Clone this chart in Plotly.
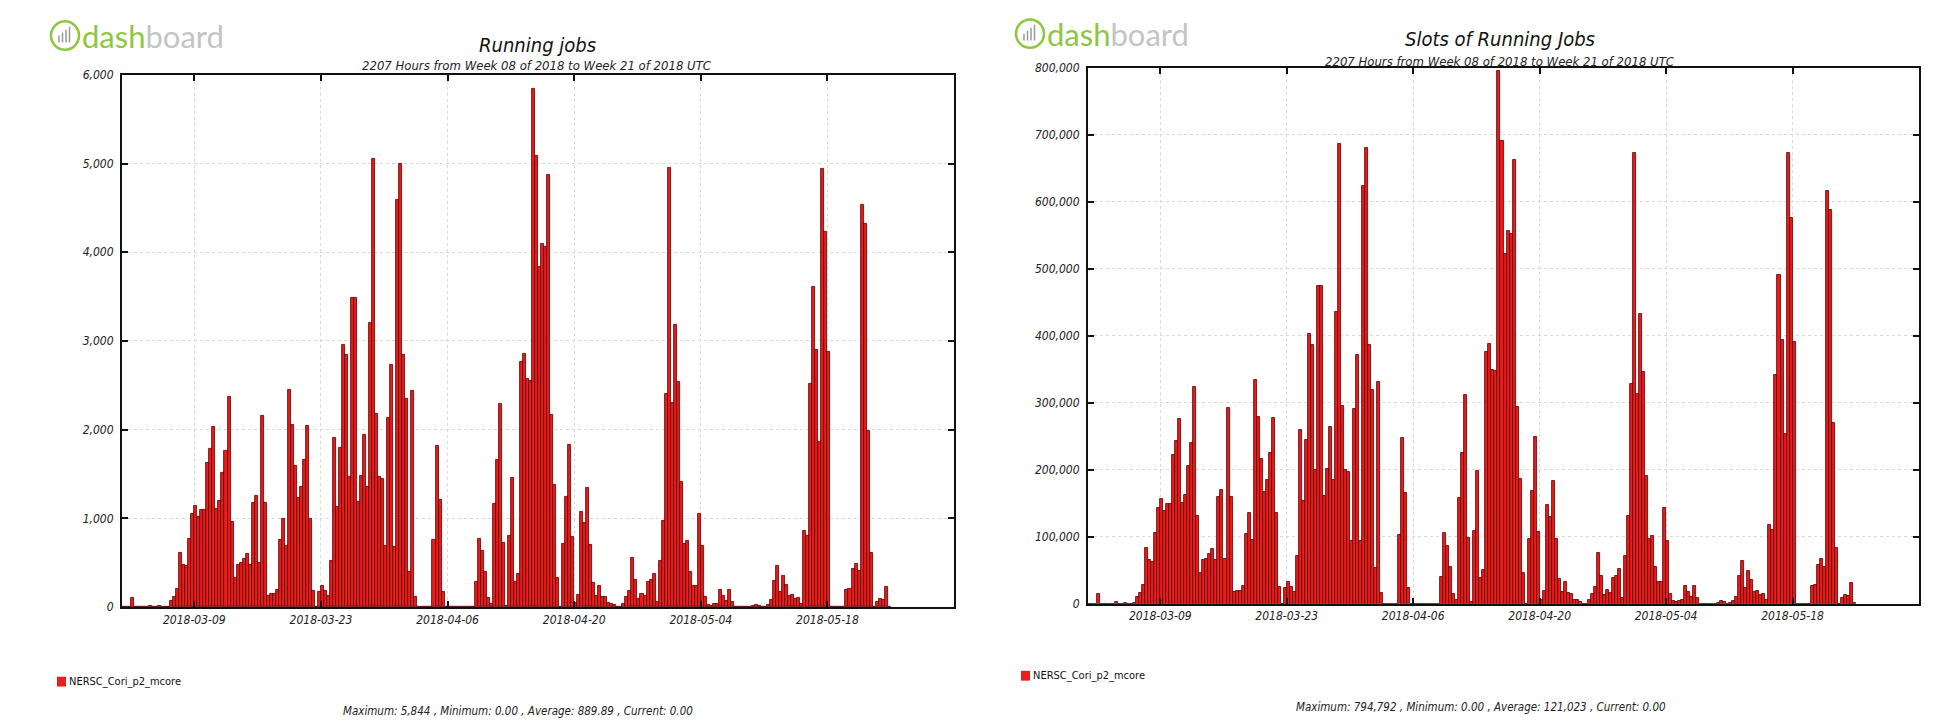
import pandas as pd
import plotly.graph_objects as go

# ---------------- data (8-hour bins starting 2018-03-01 00:00 UTC) ----------------
bin_start = "2018-03-01 00:00"
bin_hours = 8

running_jobs = [
    0, 0, 0, 105, 0, 0, 0, 0, 0, 20,
    0, 0, 10, 0, 0, 5, 70, 117, 211, 613,
    477, 461, 773, 1055, 1145, 1020, 1094, 1094, 1629, 1785,
    2031, 1109, 1199, 1512, 1762, 2375, 965, 332, 480, 496,
    547, 605, 480, 1172, 1254, 496, 2152, 1172, 125, 145,
    145, 200, 762, 1000, 695, 2453, 2055, 1590, 1227, 1355,
    1656, 2043, 1000, 188, 0, 168, 238, 188, 130, 525,
    1906, 1133, 1797, 2961, 2840, 1470, 3490, 3490, 1185, 1480,
    1940, 1360, 3205, 5050, 2175, 1470, 1445, 690, 2135, 2730,
    685, 4590, 5000, 2845, 2345, 395, 2440, 120, 0, 0,
    0, 0, 0, 758, 1816, 1211, 176, 0, 0, 0,
    0, 0, 0, 0, 0, 0, 0, 290, 775, 638,
    402, 109, 40, 1166, 1655, 2290, 720, 15, 800, 1455,
    283, 375, 2766, 2850, 2570, 2552, 5844, 5085, 3840, 4090,
    4060, 4868, 2165, 1374, 333, 0, 710, 1243, 1832, 789,
    45, 135, 1080, 951, 1350, 708, 270, 127, 236, 119,
    111, 44, 40, 24, 0, 0, 43, 111, 188, 561,
    307, 94, 148, 123, 282, 303, 377, 59, 522, 968,
    2410, 4950, 2300, 3183, 2545, 1408, 714, 748, 400, 236,
    242, 1047, 686, 111, 30, 18, 34, 40, 190, 125,
    69, 190, 60, 0, 0, 0, 0, 0, 0, 12,
    30, 18, 0, 4, 28, 78, 300, 466, 177, 358,
    256, 133, 135, 98, 107, 36, 860, 805, 2515, 3610,
    2900, 1860, 4945, 4235, 2875, 0, 0, 0, 0, 0,
    200, 202, 428, 493, 405, 4530, 4320, 1982, 616, 0,
    58, 95, 84, 232, 8,
]

running_slots = [
    0, 0, 0, 14300, 0, 0, 0, 0, 0, 2700,
    0, 0, 1400, 0, 0, 700, 9500, 15900, 28700, 83400,
    64900, 62700, 105100, 143500, 155700, 138700, 148800, 148800, 221500, 242800,
    276200, 150800, 163100, 205600, 239600, 323000, 131200, 45200, 65300, 67500,
    74400, 82300, 65300, 159400, 170500, 67500, 292700, 159400, 17000, 19700,
    19700, 27200, 103600, 136000, 94500, 333600, 279500, 216200, 166900, 184300,
    225200, 277800, 136000, 25600, 0, 22800, 32400, 25600, 17700, 71400,
    259200, 154100, 244400, 402700, 386200, 199900, 474600, 474600, 161200, 201300,
    263800, 185000, 435900, 686800, 295800, 199900, 196500, 93800, 290400, 371300,
    93200, 624200, 680000, 386900, 318900, 53700, 331800, 16300, 0, 0,
    0, 0, 0, 103100, 247000, 164700, 23900, 0, 0, 0,
    0, 0, 0, 0, 0, 0, 0, 39400, 105400, 86800,
    54700, 14800, 5400, 158600, 225100, 311400, 97900, 2000, 108800, 197900,
    38500, 51000, 376200, 387600, 349500, 347100, 794792, 691600, 522200, 556200,
    552200, 662000, 294400, 186900, 45300, 0, 96600, 169000, 249200, 107300,
    6100, 18400, 146900, 129300, 183600, 96300, 36700, 17300, 32100, 16200,
    15100, 6000, 5400, 3300, 0, 0, 5800, 15100, 25600, 76300,
    41800, 12800, 20100, 16700, 38400, 41200, 51300, 8000, 71000, 131600,
    327800, 673200, 312800, 432900, 346100, 191500, 97100, 101700, 54400, 32100,
    32900, 142400, 93300, 15100, 4100, 2400, 4600, 5400, 25800, 17000,
    9400, 25800, 8200, 0, 0, 0, 0, 0, 0, 1600,
    4100, 2400, 0, 500, 3800, 10600, 40800, 63400, 24100, 48700,
    34800, 18100, 18400, 13300, 14600, 4900, 117000, 109500, 342000, 491000,
    394400, 253000, 672500, 576000, 391000, 0, 0, 0, 0, 0,
    27200, 27500, 58200, 67000, 55100, 616100, 587500, 269600, 83800, 0,
    7900, 12900, 11400, 31600, 1100,
]

tick_dates = ["2018-03-09", "2018-03-23", "2018-04-06", "2018-04-20", "2018-05-04", "2018-05-18"]
x_range = ["2018-03-01", "2018-06-01"]
series_name = "NERSC_Cori_p2_mcore"
titles = ["Running jobs", "Slots of Running Jobs"]
subtitle = "2207 Hours from Week 08 of 2018 to Week 21 of 2018 UTC"
footers = [
    "Maximum: 5,844 , Minimum: 0.00 , Average: 889.89 , Current: 0.00",
    "Maximum: 794,792 , Minimum: 0.00 , Average: 121,023 , Current: 0.00",
]
y_ticks_jobs = [0, 1000, 2000, 3000, 4000, 5000, 6000]
y_ticks_slots = [0, 100000, 200000, 300000, 400000, 500000, 600000, 700000, 800000]

# ---------------- layout helpers ----------------
# The page body keeps its default 8px margin, so the figure is drawn 8px in from
# the window edge; all positions below are window pixels.
PAGE_W, PAGE_H, BODY_MARGIN = 1946, 728, 8
W, H = PAGE_W - 2 * BODY_MARGIN, PAGE_H - 2 * BODY_MARGIN


def px(x):
    return (x - BODY_MARGIN) / W


def py(y):
    return 1 - (y - BODY_MARGIN) / H


FONT = "DejaVu Sans Condensed, DejaVu Sans, Liberation Sans Narrow, sans-serif"
BAR_FILL = "#f01818"
BAR_EDGE = "#4a0505"

times = pd.date_range(bin_start, periods=len(running_jobs), freq=f"{bin_hours}h") + pd.Timedelta(hours=bin_hours / 2)
bar_width_ms = bin_hours * 3600 * 1000

panels = [
    dict(values=running_jobs, yticks=y_ticks_jobs, plot=(122, 954, 69, 612),
         logo=(50, 29), title=(537, 38.5), sub_y=60, legend=(57, 688), footer=(518, 718)),
    dict(values=running_slots, yticks=y_ticks_slots, plot=(1088, 1919, 62, 608.5),
         logo=(1015, 27), title=(1500, 32.5), sub_y=55, legend=(1021, 682), footer=(1481, 714)),
]

fig = go.Figure()
shapes = []
annotations = []
layout_axes = {}

for k, p in enumerate(panels):
    sfx = "" if k == 0 else str(k + 1)
    x0, x1, y0, y1 = p["plot"]
    fig.add_trace(go.Bar(
        x=times, y=p["values"], width=bar_width_ms, name=series_name,
        marker=dict(color=BAR_FILL, line=dict(color=BAR_EDGE, width=0.8)),
        xaxis="x" + sfx, yaxis="y" + sfx, showlegend=False,
    ))
    common = dict(
        showline=True, linewidth=2, linecolor="#111111", mirror="ticks",
        ticks="inside", ticklen=6, tickwidth=2, tickcolor="#111111",
        showgrid=True, gridcolor="#dadada", griddash="dot", gridwidth=1,
        zeroline=False,
    )
    layout_axes["xaxis" + sfx] = dict(
        common, domain=[px(x0), px(x1)], anchor="y" + sfx, type="date",
        range=x_range, tickvals=tick_dates, ticktext=tick_dates,
        tickfont=dict(family=FONT, size=12, color="#222222", style="italic"),
    )
    layout_axes["yaxis" + sfx] = dict(
        common, domain=[py(y1), py(y0)], anchor="x" + sfx,
        range=[0, p["yticks"][-1]], tickvals=p["yticks"],
        ticktext=[f"{v:,}" for v in p["yticks"]], ticklabelstandoff=4,
        tickfont=dict(family=FONT, size=12, color="#222222", style="italic"),
    )

    # logo
    lx, ly = p["logo"]
    shapes.append(dict(type="circle", xref="paper", yref="paper",
                       x0=px(lx + 1), x1=px(lx + 29), y0=py(ly + 14.5), y1=py(ly - 14.5),
                       line=dict(color="#8dc63f", width=2.5)))
    for j in range(4):
        shapes.append(dict(type="line", xref="paper", yref="paper",
                           x0=px(lx + 9 + 3.5 * j), x1=px(lx + 9 + 3.5 * j),
                           y0=py(ly + 7), y1=py(ly - 3 * j),
                           line=dict(color="#9a9a9a", width=1.5)))
    annotations.append(dict(
        x=px(lx + 30), y=py(ly), xref="paper", yref="paper", xanchor="left", yanchor="middle",
        showarrow=False,
        text="<span style='color:#8dc63f'>dash</span><span style='color:#c4c4c4'>board</span>",
        font=dict(family="Lato, Open Sans, sans-serif", size=31),
    ))
    # title + subtitle
    tx, ty = p["title"]
    annotations.append(dict(x=px(tx), y=py(ty), xref="paper", yref="paper",
                            xanchor="center", yanchor="middle", showarrow=False,
                            text=titles[k],
                            font=dict(family=FONT, size=20, color="#111111", style="italic")))
    annotations.append(dict(x=px(tx), y=py(p["sub_y"]), xref="paper", yref="paper",
                            xanchor="center", yanchor="middle", showarrow=False,
                            text=subtitle,
                            font=dict(family=FONT, size=13, color="#222222", style="italic")))
    # legend
    gx, gy = p["legend"]
    shapes.append(dict(type="rect", xref="paper", yref="paper",
                       x0=px(gx), x1=px(gx + 9), y0=py(gy + 5), y1=py(gy - 5),
                       fillcolor="#e8201c", line=dict(width=0)))
    annotations.append(dict(x=px(gx + 10), y=py(gy), xref="paper", yref="paper",
                            xanchor="left", yanchor="middle", showarrow=False,
                            text=series_name,
                            font=dict(family=FONT, size=11, color="#111111")))
    # footer
    fx, fy = p["footer"]
    annotations.append(dict(x=px(fx), y=py(fy), xref="paper", yref="paper",
                            xanchor="center", yanchor="middle", showarrow=False,
                            text=footers[k],
                            font=dict(family=FONT, size=11.5, color="#222222", style="italic")))

fig.update_layout(
    width=W, height=H,
    margin=dict(l=0, r=0, t=0, b=0),
    paper_bgcolor="white", plot_bgcolor="white",
    bargap=0,
    shapes=shapes, annotations=annotations,
    font=dict(family=FONT),
    **layout_axes,
)

fig.write_html("out.html")
